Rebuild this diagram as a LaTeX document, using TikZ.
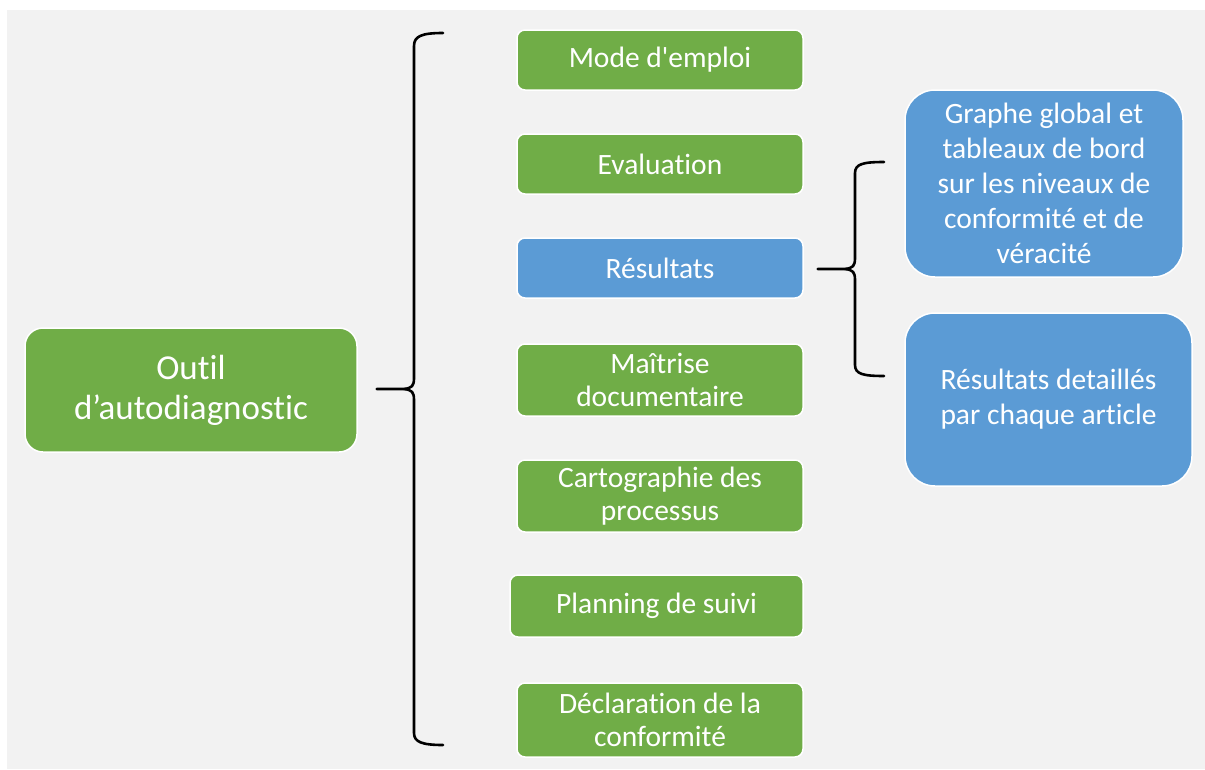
\documentclass[tikz,border=0pt]{standalone}
\usepackage{fontspec}
\setmainfont{Carlito}[Ligatures=NoCommon]
\newfontfamily\straightq{Carlito}[Ligatures=ResetAll]
\usetikzlibrary{calc}
\definecolor{bggray}{HTML}{F2F2F2}
\definecolor{boxgreen}{HTML}{70AD47}
\definecolor{boxblue}{HTML}{5B9BD5}
\tikzset{
  box/.style={draw=white, line width=1.5pt, rounded corners=8pt, text=white, align=center, inner sep=2pt,
    font=\fontsize{29.5}{32.5}\selectfont},
  greenbox/.style={box, fill=boxgreen},
  bluebox/.style={box, fill=boxblue},
  bigblue/.style={box, fill=boxblue, rounded corners=30pt, font=\fontsize{29.5}{35}\selectfont},
  brace/.style={draw=black, line width=2.6pt, line cap=round, line join=round},
}
\begin{document}
\begin{tikzpicture}[x=1pt,y=-1pt]
\useasboundingbox (0,0) rectangle (1205,769);
\fill[white] (0,0) rectangle (1205,769);
\fill[bggray] (7,10) rectangle (1205,769);

\node[greenbox, rounded corners=18pt, minimum width=332pt, minimum height=124pt,
  font=\fontsize{35}{40}\selectfont] (outil) at (191,390) {Outil\\d’autodiagnostic};

\node[greenbox, minimum width=286pt, minimum height=60pt] (mode) at (660,60) {Mode d{\straightq\char"27}emploi};
\node[greenbox, minimum width=286pt, minimum height=60pt] (eval) at (660,164) {Evaluation};
\node[bluebox, minimum width=286pt, minimum height=60pt] (res) at (660,268) {Résultats};
\node[greenbox, minimum width=286pt, minimum height=72pt] (mait) at (660,380) {Maîtrise\\documentaire};
\node[greenbox, minimum width=286pt, minimum height=72pt] (carto) at (660,496) {Cartographie des\\processus};
\node[greenbox, minimum width=293pt, minimum height=62pt] (plan) at (656.5,606) {Planning de suivi};
\node[greenbox, minimum width=286pt, minimum height=74pt] (decl) at (660,720) {Déclaration de la\\conformité};

\node[bigblue, minimum width=278pt, minimum height=187pt] (graphe) at (1044,183.5)
  {Graphe global et\\tableaux de bord\\sur les niveaux de\\conformité et de\\véracité};
\node[bigblue, minimum width=287pt, minimum height=173pt] (detail) at (1048.5,399.5)
  {Résultats detaillés\\par chaque article};

% big brace
\coordinate (btip) at ($(outil.east)+(19,-1)$);
\coordinate (bmid) at (404,389);
\coordinate (btop) at (443,33);
\coordinate (bbot) at (443,745);
\draw[brace] (btop) .. controls (422,33) and (414,36) .. (414,46) -- (414,378)
  .. controls (414,386) and (412,388) .. (bmid) -- (btip);
\draw[brace] (bmid) .. controls (412,390) and (414,392) .. (414,400) -- (414,733)
  .. controls (414,742) and (422,745) .. (bbot);

% small brace
\coordinate (stip) at ($(res.east)+(14,1)$);
\coordinate (smid) at (845,269);
\coordinate (stop) at (884,162);
\coordinate (sbot) at (884,376);
\draw[brace] (stop) .. controls (863,162) and (855,164) .. (855,173) -- (855,258)
  .. controls (855,266) and (853,268) .. (smid) -- (stip);
\draw[brace] (smid) .. controls (853,270) and (855,272) .. (855,280) -- (855,365)
  .. controls (855,374) and (863,376) .. (sbot);
\end{tikzpicture}
\end{document}
